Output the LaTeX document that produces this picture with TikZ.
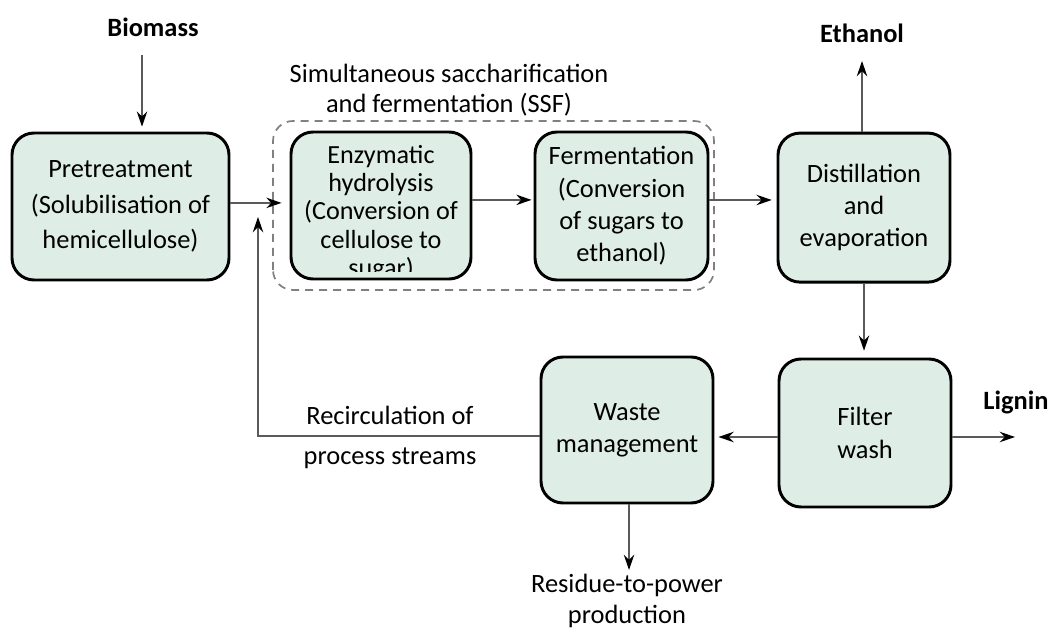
\documentclass[tikz,border=0pt]{standalone}
\usepackage{fontspec}
\setmainfont{Carlito}
\usepackage{tikz}
\usetikzlibrary{arrows.meta,calc}
\definecolor{stagefill}{HTML}{DEEDE5}
\definecolor{flowgray}{HTML}{5A5A5A}

\begin{document}
\begin{tikzpicture}[
    stage/.style={draw=black, line width=2.1pt, fill=stagefill, rounded corners=0.55cm,
      minimum width=4.3cm, minimum height=3.7cm, align=center, inner sep=0pt,
      font=\fontsize{18.8pt}{23pt}\selectfont},
    flow/.style={draw=flowgray, line width=1.4pt, -{Stealth[length=3.8mm,width=2.6mm,color=black]}},
    lbl/.style={font=\fontsize{18.8pt}{23pt}\selectfont\bfseries},
    note/.style={align=center, font=\fontsize{18.8pt}{23pt}\selectfont}]
  \fill[white] (0,0) rectangle (26.275,15.85);
  \useasboundingbox (0,0) rectangle (26.275,15.85);
  % SSF frame
  \draw[gray, line width=1.2pt, dash pattern=on 0.2cm off 0.15cm, rounded corners=0.5cm]
    (6.825,8.6) rectangle (17.85,12.825);
  \node[note, font=\fontsize{18.8pt}{21.3pt}\selectfont] (ssf) at (11.225,13.6)
    {Simultaneous saccharification\\and fermentation (SSF)};
  % Process stages
  \node[stage, minimum width=5.425cm, minimum height=3.675cm,
    font=\fontsize{18.8pt}{25pt}\selectfont] (pre) at (3.0125,10.6875)
    {Pretreatment\\(Solubilisation of\\hemicellulose)};
  \node[stage, minimum width=4.5cm, minimum height=3.675cm] (enz) at (9.525,10.7125) {};
  \begin{scope}
    \clip ($(enz.south west)+(0.08,0.22)$) rectangle ($(enz.north east)+(-0.08,-0.08)$);
    \node[note, inner sep=0pt, font=\fontsize{18.6pt}{20.1pt}\selectfont] (enztext) at (9.525,10.525)
      {Enzymatic\\hydrolysis\\(Conversion of\\cellulose to\\sugar)};
  \end{scope}
  \node[stage, minimum width=4.325cm] (ferm) at (15.5375,10.7)
    {Fermentation\\(Conversion\\of sugars to\\ethanol)};
  \node[stage, minimum height=3.725cm] (dist) at (21.6,10.66)
    {Distillation\\and\\evaporation};
  \node[stage] (filt) at (21.625,5.025) {Filter\\wash};
  \node[stage, minimum height=3.65cm] (waste) at (15.675,5.1) {Waste\\management};
  % Inputs and outputs
  \node[lbl] (biomass) at (3.825,15.175) {Biomass};
  \node[lbl] (ethanol) at (21.55,15.025) {Ethanol};
  \node[lbl] (lignin) at (25.4,5.8) {Lignin};
  \node[note, font=\fontsize{18.8pt}{28.4pt}\selectfont] (recirc) at (9.75,4.925)
    {Recirculation of\\process streams};
  \node[note, font=\fontsize{18.8pt}{22pt}\selectfont] (residue) at (15.675,0.82)
    {Residue-to-power\\production};
  \coordinate (bioin) at (3.55,14.475);
  \coordinate (ethout) at (21.55,14.325);
  \coordinate (ligout) at (25.375,4.925);
  \coordinate (resout) at (15.725,1.6);
  \coordinate (loopin) at (6.45,10.425);
  % Flows
  \draw[flow, shorten >=0.12cm] (bioin) -- (bioin |- pre.north);
  \draw[flow, shorten >=0.2cm] ([yshift=0.09cm]pre.east) -- ([yshift=0.09cm]pre.east -| enz.west);
  \draw[flow, shorten >=0.05cm] ([yshift=0.14cm]enz.east) -- ([yshift=0.14cm]enz.east -| ferm.west);
  \draw[flow, shorten >=0.12cm] ([yshift=0.15cm]ferm.east) -- ([yshift=0.15cm]ferm.east -| dist.west);
  \draw[flow] (ethout |- dist.north) -- (ethout);
  \draw[flow, shorten >=0.17cm] (dist.south) -- (dist.south |- filt.north);
  \draw[flow] (filt.east |- ligout) -- (ligout);
  \draw[flow, shorten >=0.1cm] ([yshift=-0.1cm]filt.west) -- ([yshift=-0.1cm]filt.west -| waste.east);
  \draw[flow] ([yshift=-0.15cm]waste.west) -| (loopin);
  \draw[flow] (resout |- waste.south) -- (resout);
\end{tikzpicture}
\end{document}
